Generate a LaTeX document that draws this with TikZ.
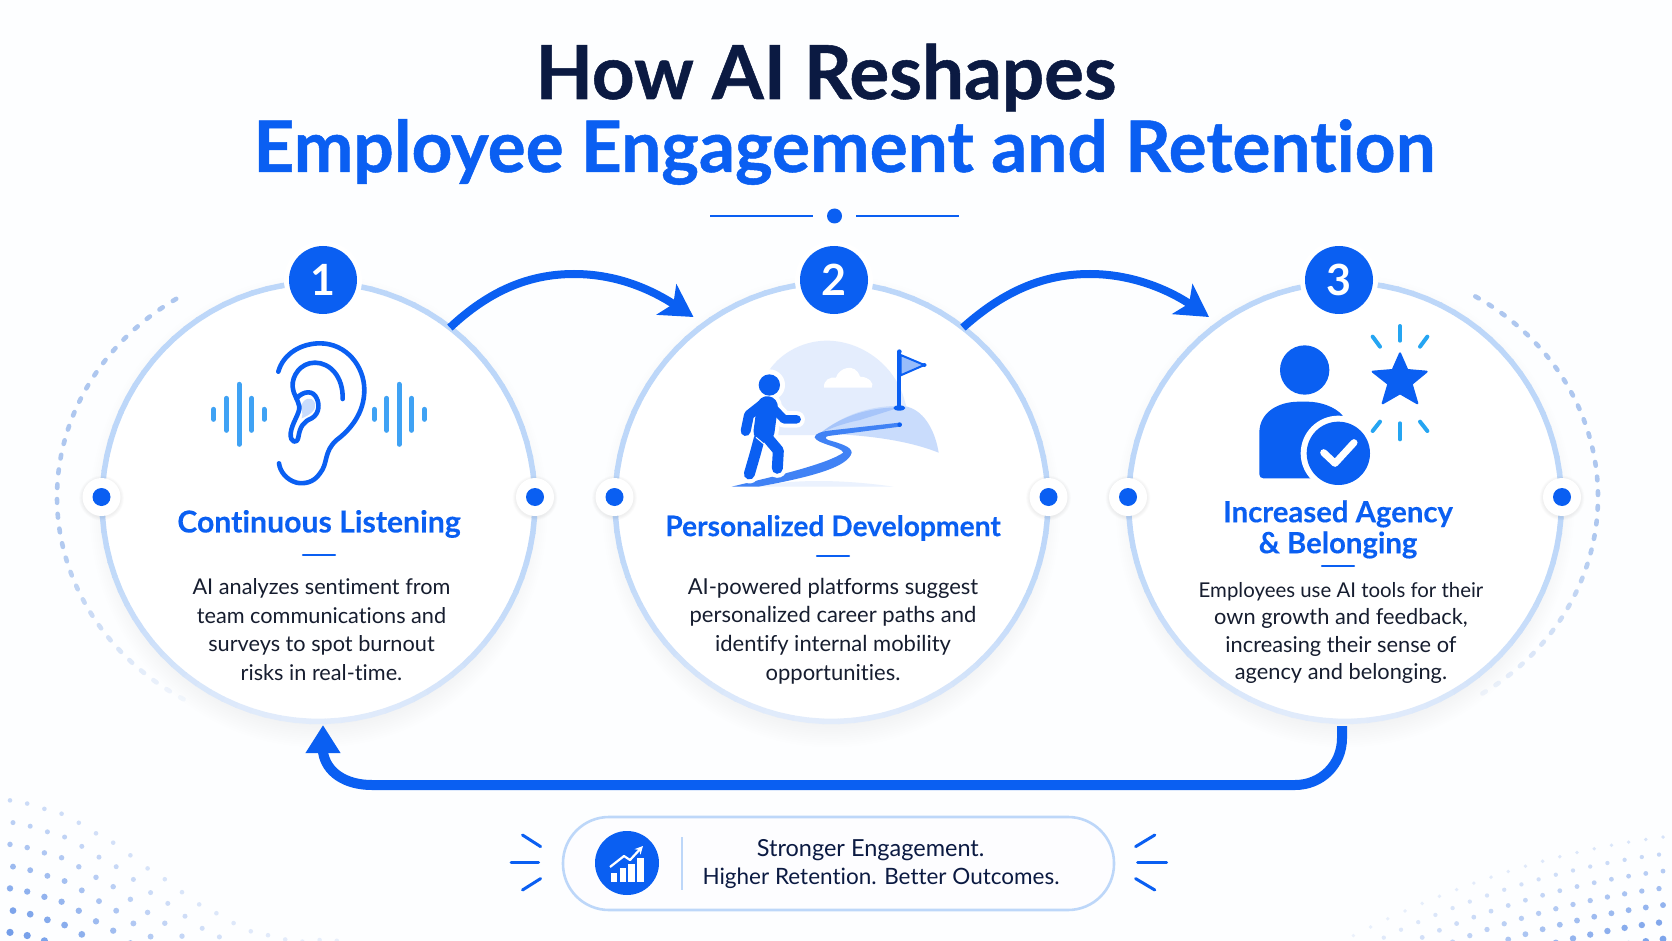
\documentclass[tikz,border=0pt]{standalone}
\usepackage{fontspec}
\setmainfont{Lato}[Ligatures=NoCommon]
\newfontfamily\titlefont[FakeBold=0.7,Ligatures=NoCommon]{Lato Bold}
\newfontfamily\headfont[FakeBold=0.25,Ligatures=NoCommon]{Lato Bold}
\usetikzlibrary{calc,arrows.meta,shapes.geometric}
\definecolor{brand}{HTML}{0A5FF2}
\definecolor{navy}{HTML}{0B1A42}
\definecolor{bodyink}{HTML}{161D2F}
\definecolor{ringtop}{HTML}{BDD7F9}
\definecolor{ringbot}{HTML}{E2ECFB}
\definecolor{wave}{HTML}{3FA2F4}
\definecolor{spark}{HTML}{25A5F2}
\definecolor{dotblue}{HTML}{4F84E4}
\definecolor{dashblue}{HTML}{AAC5EF}
\definecolor{pagebg}{HTML}{FDFEFF}
\tikzset{
  disc/.style={ellipse,minimum width=433pt,minimum height=439pt,inner sep=0pt,outer sep=0pt},
  badge/.style={circle,fill=brand,minimum size=68pt,inner sep=0pt,text=white,font=\fontsize{43}{43}\selectfont\bfseries},
  heading/.style={text=brand,align=center},
  bodytext/.style={text=bodyink,align=center},
  tick/.style={draw=brand,line width=2.4pt,line cap=round},
  flowline/.style={draw=brand,line width=8pt,-{Stealth[length=32pt,width=36pt,inset=8pt]}},
  returnline/.style={draw=brand,line width=10pt,-{Triangle[length=28pt,width=33pt]}},
  ray/.style={draw=brand,line width=3pt,line cap=round},
  sparkray/.style={draw=spark,line width=4pt,line cap=round},
  wavebar/.style={draw=wave,line width=5pt,line cap=round},
  earline/.style={draw=brand,line width=4.6pt,line cap=round,line join=round},
}
% Circular card: soft shadow, white disc and a ring that pales towards the bottom
\newcommand{\cardbase}[3]{%
  \foreach \i in {1,...,12}{\fill[brand,opacity=0.005] (#2,#3+9) ellipse ({205+2*\i} and {210+2.2*\i});}
  \node[disc,fill=white] (#1) at (#2,#3) {};
  \foreach \a in {0,4,...,356}{%
    \pgfmathtruncatemacro\p{100-100*max(0,sin(\a))^2}
    \draw[color=ringtop!\p!ringbot,line width=5.5pt] ($(#1)+(\a:216.5 and 219.5)$) -- ($(#1)+(\a+4.3:216.5 and 219.5)$);
  }%
}
% White stud with a blue centre, sitting on a ring
\newcommand{\stud}[3]{%
  \foreach \i in {1,...,5}{\fill[black,opacity=0.012] (#2,#3+1) circle ({19+\i*0.7});}
  \node[circle,fill=white,minimum size=38pt,inner sep=0pt] (#1) at (#2,#3) {};
  \fill[brand] (#1) circle (9);
}
\begin{document}
\begin{tikzpicture}[x=1pt,y=-1pt]
\useasboundingbox (0,0) rectangle (1672,941);
\fill[pagebg] (0,0) rectangle (1672,941);

% Halftone dots in the lower corners
\foreach \r in {0,...,7}{
  \foreach \c in {0,...,19}{
    \pgfmathsetmacro\px{10+\c*17.2+mod(\r,2)*3}
    \pgfmathsetmacro\py{800+70*(1-cos(min(\px,304)/304*180))+\r*22+mod(\c,3)*0.8}
    \pgfmathsetmacro\op{min(0.8,0.3+0.09*\r)*(1-\px/560)}
    \pgfmathsetmacro\rad{2.3+0.22*\r}
    \fill[dotblue,opacity=\op] (\px,\py) circle (\rad);
  }
}
\foreach \r in {0,...,6}{
  \foreach \c in {0,...,19}{
    \pgfmathsetmacro\uu{9+\c*17.2+mod(\r,2)*4}
    \pgfmathsetmacro\py{836+0.115*\uu+6.2*(\uu/100)*(\uu/100)+\r*17}
    \pgfmathsetmacro\px{1672-\uu}
    \pgfmathsetmacro\op{min(0.75,0.22+0.1*\r)*(1-\uu/600)}
    \pgfmathsetmacro\rad{1.9+0.26*\r}
    \fill[dotblue,opacity=\op] (\px,\py) circle (\rad);
  }
}

% Heading block
\node[anchor=base,text=navy,font=\fontsize{74.5}{74}\selectfont\titlefont] (title1) at (826,99) {How AI Reshapes};
\node[anchor=base,text=brand,font=\fontsize{71.2}{72}\selectfont\titlefont] (title2) at (844.5,172) {Employee Engagement and Retention};
\draw[brand,line width=2.4pt] (710,216) -- (813,216);
\draw[brand,line width=2.4pt] (856,216) -- (959,216);
\fill[brand] (834.5,216) circle (7.5);

% Dashed outer arcs
\coordinate (arcL) at (318,497);
\coordinate (arcR) at (1345,497);
\foreach \a in {121,124.6,...,239}{
  \pgfmathsetmacro\op{min(0.95,0.12+0.83*(\a-121)/50)}
  \draw[dashblue,opacity=\op,line width=4.6pt,line cap=round] ($(arcL)+(\a:261 and 236)$) -- ($(arcL)+(\a+0.9:261 and 236)$);
}
\foreach \a in {-59,-55.4,...,59}{
  \pgfmathsetmacro\op{min(0.95,0.12+0.83*(59-\a)/50)}
  \draw[dashblue,opacity=\op,line width=4.6pt,line cap=round] ($(arcR)+(\a:253 and 234)$) -- ($(arcR)+(\a+0.9:253 and 234)$);
}

% Cards
\cardbase{c1}{318.5}{502}
\cardbase{c2}{831.5}{502}
\cardbase{c3}{1345}{502}

% Flow connectors
\coordinate (tip1) at ($(c2)+(-138,-185)$);
\coordinate (tip2) at ($(c3)+(-136,-185)$);
\draw[flowline] (c1.53) .. controls (490,290) and (530,274) .. (574,274) .. controls (620,274) and (655,292) .. (tip1);
\draw[flowline] (c2.53) .. controls (1005,290) and (1045,274) .. (1090,274) .. controls (1135,274) and (1172,292) .. (tip2);
\coordinate (backstart) at ($(c3.south)+(-3,4.5)$);
\coordinate (backend) at ($(c1.south)+(4.5,3.5)$);
\draw[returnline] (backstart) -- ++(0,12) .. controls (1342,765) and (1321,785) .. (1295,785) -- (372,785) .. controls (345,785) and (326,772) .. (323,752) -- (backend);

% Studs on the rings
\stud{s1l}{101.5}{497}
\stud{s1r}{535}{497}
\stud{s2l}{614.5}{497}
\stud{s2r}{1048.5}{497}
\stud{s3l}{1128}{497}
\stud{s3r}{1562}{497}

% Number badges with a white halo
\foreach \n/\x in {1/323,2/834,3/1339}{
  \fill[white] (\x,280) circle (39);
  \node[badge] (b\n) at (\x,280) {\n};
}

% Card 1: ear and sound waves
\begin{scope}[shift={(180,230)},x=0.33333pt,y=-0.33333pt]
  \foreach \x/\h in {101/15,139/48,177/90,215/48,252/15,583/15,620/48,657/90,695/48,733/15}{
    \draw[wavebar] (\x,553-\h) -- (\x,553+\h);
  }
  \fill[brand!22] (362,530) .. controls (370,505) and (395,495) .. (405,520) .. controls (410,540) and (390,555) .. (365,565) .. controls (370,550) and (365,540) .. (362,530) -- cycle;
  \draw[earline] (295,425) .. controls (310,370) and (365,340) .. (420,340) .. controls (500,340) and (553,410) .. (553,480) .. controls (553,550) and (510,600) .. (470,630) .. controls (430,665) and (445,700) .. (420,730) .. controls (400,760) and (370,762) .. (350,758) .. controls (320,750) and (300,725) .. (297,700);
  \draw[earline] (488,507) .. controls (490,440) and (450,398) .. (405,398) .. controls (360,398) and (335,440) .. (338,470) .. controls (340,495) and (355,510) .. (358,530) .. controls (360,550) and (335,580) .. (332,610) .. controls (330,640) and (352,642) .. (355,622) .. controls (360,590) and (370,575) .. (395,565) .. controls (420,550) and (418,520) .. (410,505) .. controls (400,480) and (370,482) .. (350,505);
\end{scope}

% Card 2: walker on a winding road towards a flag
\begin{scope}[shift={(680,320)},x=0.33333pt,y=-0.33333pt]
  \fill[brand!11] (268,150) .. controls (310,90) and (380,62) .. (440,62) .. controls (540,62) and (640,130) .. (672,235) -- (690,300) -- (420,345) -- (295,345) -- cycle;
  \fill[white] (432,203) .. controls (430,180) and (450,170) .. (468,173) .. controls (475,145) and (525,125) .. (540,170) .. controls (565,170) and (585,190) .. (575,203) -- cycle;
  \fill[brand!22] (420,340) .. controls (490,285) and (570,255) .. (670,258) .. controls (730,265) and (765,330) .. (776,398) .. controls (680,360) and (560,345) .. (420,340) -- cycle;
  \fill[brand!36] (420,340) .. controls (490,285) and (570,262) .. (660,262) -- (540,300) .. controls (490,310) and (450,325) .. (420,340) -- cycle;
  \fill[brand!8] (230,500) .. controls (350,475) and (500,480) .. (640,500) -- cycle;
  \fill[brand!78!white] (155,500) .. controls (300,465) and (440,432) .. (490,398) .. controls (485,380) and (410,372) .. (404,352) .. controls (405,340) and (425,335) .. (445,332) -- (658,308) -- (660,320) -- (445,348) .. controls (435,350) and (435,356) .. (445,360) .. controls (480,370) and (515,380) .. (515,398) .. controls (505,440) and (400,470) .. (235,500) -- cycle;
  \fill[brand] (659,314) circle (7);
  % flag
  \draw[brand,line width=4pt] (658,95) -- (658,262);
  \fill[brand] (658,264) ellipse (18 and 8);
  \fill[brand] (658,95) circle (7);
  \fill[brand] (733,135) circle (6);
  \filldraw[draw=brand,line width=2pt,fill=brand!42!white] (662,105) -- (733,135) -- (662,166) -- cycle;
  % walker: white outline first, then the figure
  \fill[white] (268,195) circle (47);
  \foreach \col/\extra in {white/8pt,brand/0pt}{
    \draw[\col,line width={10pt+\extra},line cap=round,line join=round] (197,333) -- (207,285) -- (245,255);
    \draw[\col,line width={8.5pt+\extra},line cap=round,line join=round] (278,262) -- (312,298) -- (350,298);
    \draw[\col,line width={21pt+\extra},line cap=round] (262,260) -- (252,335);
    \draw[\col,line width={11pt+\extra},line cap=round,line join=round] (238,355) -- (226,400) -- (208,462);
    \draw[\col,line width={11pt+\extra},line cap=round,line join=round] (258,348) -- (295,392) -- (292,445);
  }
  \draw[white,line width=1pt] (228,352) -- (252,372);
  \fill[brand] (268,195) circle (32);
\end{scope}

% Card 3: person with a tick and a shining star
\begin{scope}[shift={(1220,310)},x=0.33333pt,y=-0.33333pt]
  \fill[brand] (254,180) circle (74);
  \fill[brand,rounded corners=4pt] (118,505) -- (118,380) .. controls (118,310) and (170,275) .. (250,275) .. controls (300,275) and (345,290) .. (375,325) -- (300,505) -- cycle;
  \fill[white] (355,430) circle (113);
  \fill[brand] (355,430) circle (95);
  \draw[white,line width=7pt,line cap=round,line join=round] (311,428) -- (345,460) -- (402,398);
  \filldraw[draw=brand,fill=brand,line width=2pt,line join=round] (540,130) -- (562,180) -- (620,185) -- (575,222) -- (592,280) -- (540,250) -- (488,280) -- (505,222) -- (458,185) -- (518,180) -- cycle;
  \foreach \xa/\ya/\xb/\yb in {540/48/540/92,458/80/480/110,622/80/600/110,458/363/480/335,540/340/540/388,622/363/600/335}{
    \draw[sparkray] (\xa,\ya) -- (\xb,\yb);
  }
\end{scope}

% Card texts
\node[heading,font=\fontsize{30.2}{31}\selectfont\headfont] (h1) at (319,524) {Continuous Listening};
\draw[tick] (303,555) -- (335,555);
\node[bodytext,font=\fontsize{21.7}{28.6}\selectfont] (t1) at (321.5,629.5) {AI analyzes sentiment from\\team communications and\\surveys to spot burnout\\risks in real-time.};
\node[heading,font=\fontsize{28.2}{31}\selectfont\headfont] (h2) at (833,528) {Personalized Development};
\draw[tick] (817,556) -- (849,556);
\node[bodytext,font=\fontsize{22}{28.6}\selectfont] (t2) at (833,631) {AI-powered platforms suggest\\personalized career paths and\\identify internal mobility\\opportunities.};
\node[heading,font=\fontsize{29.3}{31}\selectfont\headfont] (h3) at (1338,529.5) {Increased Agency\\\& Belonging};
\draw[tick] (1322,566) -- (1354,566);
\node[bodytext,font=\fontsize{21.8}{27.4}\selectfont] (t3) at (1341,633) {{\fontsize{20.4}{27.4}\selectfont Employees use AI tools for their}\\own growth and feedback,\\increasing their sense of\\agency and belonging.};

% Closing banner
\node[draw=ringtop,fill=pagebg!60!blue!2!white,line width=2.6pt,rectangle,rounded corners=46pt,minimum width=551pt,minimum height=93pt,inner sep=0pt] (pill) at (838.5,863.5) {};
\node[circle,fill=brand,minimum size=64pt,inner sep=0pt] (chart) at (627,863) {};
\foreach \xa/\top in {610.5/873,619.5/868,628/864,637/858}{
  \fill[white] (\xa,\top) rectangle (\xa+6.8,882);
}
\draw[white,line width=2.2pt,line join=round,-{Stealth[length=8pt,width=8pt]}] (chart.center)++(-17,4) -- ++(14,-11) -- ++(6,4) -- ++(13,-14);
\draw[ringtop,line width=1.6pt] (682,837) -- (682,890);
\node[text=navy,font=\fontsize{23.5}{28}\selectfont] (closing1) at (870.6,850) {Stronger Engagement.};
\node[text=navy,font=\fontsize{22.5}{28}\selectfont] (closing2) at (881,878) {Higher Retention. Better Outcomes.};
\draw[ray] (522.5,835) -- (540.6,846.6);
\draw[ray] (511,862.6) -- (538.5,862.6);
\draw[ray] (522.5,890) -- (540.6,878.6);
\draw[ray] (1154.8,835) -- (1135.6,846.6);
\draw[ray] (1137.7,862.6) -- (1166.5,862.6);
\draw[ray] (1154.8,890) -- (1135.6,878.6);
\end{tikzpicture}
\end{document}
